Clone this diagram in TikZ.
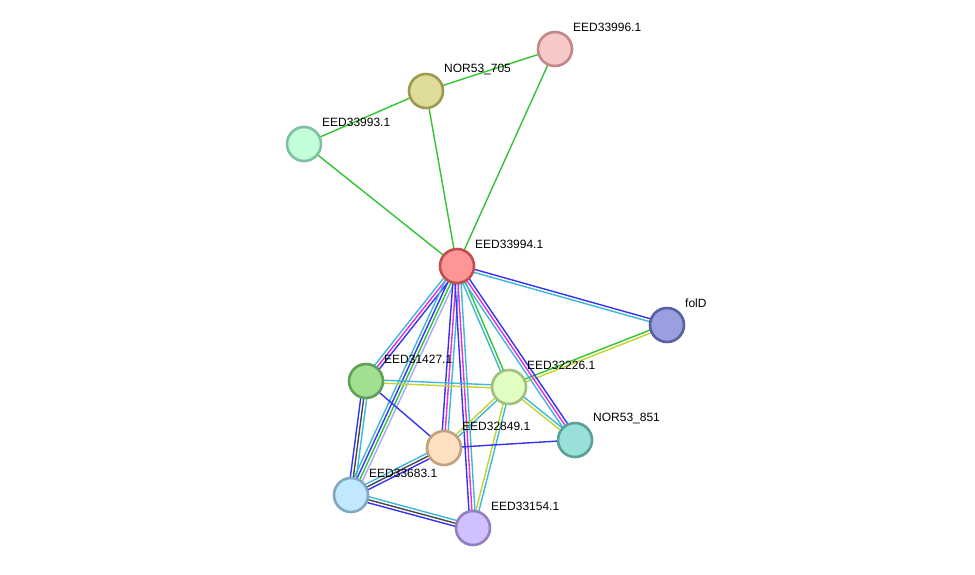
\documentclass[tikz,border=0pt]{standalone}
\usepackage{fontspec}
\setmainfont{Liberation Sans}
\usetikzlibrary{calc}
\pgfdeclarelayer{bg}
\pgfdeclarelayer{paper}
\pgfsetlayers{paper,bg,main}
\definecolor{eblue}{HTML}{3333F0}
\definecolor{ecyan}{HTML}{3CB8D8}
\definecolor{emag}{HTML}{E030E0}
\definecolor{egreen}{HTML}{33C433}
\definecolor{eyel}{HTML}{C2D42C}
\definecolor{eblack}{HTML}{484848}
\definecolor{elav}{HTML}{A8A8FF}
\tikzset{
  prot/.style={circle, minimum size=34pt, inner sep=0pt, line width=2.6pt},
  lbl/.style={anchor=west, inner sep=0pt, font=\fontsize{12}{14}\selectfont, text=black},
  ed/.style={line width=1.4pt},
}
\newcommand{\medge}[4]{%
  \foreach \ec [count=\ei] in {#4} {%
    \pgfmathsetmacro\eoff{(\ei-(#3+1)/2)*3.0}%
    \draw[ed, color=\ec] ($(#1)!\eoff pt!90:(#2)$) -- ($(#2)!\eoff pt!-90:(#1)$);
  }%
}
\begin{document}
\begin{tikzpicture}[x=1pt, y=-1pt]
\begin{pgfonlayer}{paper}
\fill[white] (0,0) rectangle (975,574);
\end{pgfonlayer}
\useasboundingbox (0,0) rectangle (975,574);
% nodes
\node[prot, fill={rgb,255:red,248;green,200;blue,200}, draw={rgb,255:red,192;green,136;blue,136}] (n996) at (555,49) {};
\node[prot, fill={rgb,255:red,222;green,220;blue,152}, draw={rgb,255:red,156;green,154;blue,82}] (n705) at (426,91) {};
\node[prot, fill={rgb,255:red,192;green,255;blue,216}, draw={rgb,255:red,128;green,192;blue,160}] (n993) at (304,144) {};
\node[prot, fill={rgb,255:red,255;green,150;blue,150}, draw={rgb,255:red,192;green,80;blue,80}] (n994) at (457,266) {};
\node[prot, fill={rgb,255:red,152;green,160;blue,224}, draw={rgb,255:red,88;green,96;blue,160}] (nfol) at (667,325) {};
\node[prot, fill={rgb,255:red,160;green,224;blue,144}, draw={rgb,255:red,96;green,160;blue,88}] (n427) at (366,381) {};
\node[prot, fill={rgb,255:red,224;green,255;blue,192}, draw={rgb,255:red,160;green,192;blue,128}] (n226) at (509,387) {};
\node[prot, fill={rgb,255:red,152;green,224;blue,216}, draw={rgb,255:red,88;green,160;blue,152}] (n851) at (575,440) {};
\node[prot, fill={rgb,255:red,255;green,224;blue,192}, draw={rgb,255:red,192;green,160;blue,128}] (n849) at (444,448) {};
\node[prot, fill={rgb,255:red,192;green,232;blue,255}, draw={rgb,255:red,128;green,168;blue,192}] (n683) at (351,495) {};
\node[prot, fill={rgb,255:red,208;green,192;blue,255}, draw={rgb,255:red,144;green,128;blue,192}] (n154) at (473,528) {};
% labels
\node[lbl] (l996) at ($(n996)+(18,-22)$) {EED33996.1};
\node[lbl] (l705) at ($(n705)+(18,-22)$) {NOR53\_705};
\node[lbl] (l993) at ($(n993)+(18,-22)$) {EED33993.1};
\node[lbl] (l994) at ($(n994)+(18,-22)$) {EED33994.1};
\node[lbl] (lfol) at ($(nfol)+(18,-22)$) {folD};
\node[lbl] (l427) at ($(n427)+(18,-22)$) {EED31427.1};
\node[lbl] (l226) at ($(n226)+(18,-22)$) {EED32226.1};
\node[lbl] (l851) at ($(n851)+(18,-22)$) {NOR53\_851};
\node[lbl] (l849) at ($(n849)+(18,-22)$) {EED32849.1};
\node[lbl] (l683) at ($(n683)+(18,-22)$) {EED33683.1};
\node[lbl] (l154) at ($(n154)+(18,-22)$) {EED33154.1};
% edges
\begin{pgfonlayer}{bg}
\medge{n705}{n996}{1}{egreen}
\medge{n705}{n993}{1}{egreen}
\medge{n705}{n994}{1}{egreen}
\medge{n996}{n994}{1}{egreen}
\medge{n993}{n994}{1}{egreen}
\medge{n994}{nfol}{2}{ecyan,eblue}
\medge{nfol}{n226}{2}{egreen,eyel}
\medge{n994}{n427}{3}{ecyan,emag,eblue}
\medge{n994}{n683}{4}{ecyan,eblue,egreen,elav}
\medge{n994}{n849}{3}{eblue,emag,ecyan}
\medge{n994}{n154}{3}{eblue,emag,ecyan}
\medge{n994}{n226}{2}{ecyan,egreen}
\medge{n994}{n851}{3}{ecyan,emag,eblue}
\medge{n427}{n226}{2}{eyel,ecyan}
\medge{n427}{n849}{1}{eblue}
\medge{n427}{n683}{3}{eblue,eblack,ecyan}
\medge{n226}{n849}{2}{eyel,ecyan}
\medge{n226}{n154}{2}{eyel,ecyan}
\medge{n226}{n851}{2}{eyel,ecyan}
\medge{n849}{n851}{1}{eblue}
\medge{n849}{n683}{3}{ecyan,eblack,eblue}
\medge{n683}{n154}{3}{eblue,eblack,ecyan}
\end{pgfonlayer}
\end{tikzpicture}
\end{document}
